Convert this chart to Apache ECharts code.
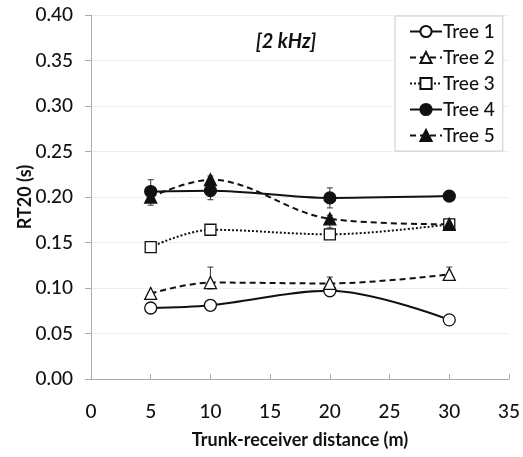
<!DOCTYPE html>
<html><head><meta charset="utf-8">
<script src="https://cdn.jsdelivr.net/npm/echarts@6/dist/echarts.min.js"></script>
<style>html,body{margin:0;padding:0;background:#fff}#c{width:523px;height:457px}</style>
</head><body><div id="c"></div>
<script>
const distances = [5, 10, 20, 30];
const tree1 = [0.078, 0.081, 0.097, 0.065];
const tree2 = [0.094, 0.106, 0.105, 0.115];
const tree3 = [0.145, 0.164, 0.159, 0.170];
const tree4 = [0.206, 0.207, 0.199, 0.201];
const tree5 = [0.200, 0.219, 0.176, 0.170];
// error bars: [x, low, high]
const errorBars = [
  [5, 0.194, 0.219], [10, 0.197, 0.223], [20, 0.188, 0.210],
  [5, 0.191, 0.206], [20, 0.166, 0.180],
  [10, 0.099, 0.123], [20, 0.100, 0.112], [30, 0.110, 0.123]
];
const yTicks = ['0.00','0.05','0.10','0.15','0.20','0.25','0.30','0.35','0.40'];

const FONT = 'Lato';
function pts(arr){ return distances.map((d,i)=>[d, arr[i]]); }
function lineSeries(name, arr, symbol, fill, dash){
  return {
    name, type:'line', data: pts(arr), smooth: 0.35,
    symbol, symbolSize: symbol==='triangle'?12:(symbol==='rect'?11:12),
    lineStyle:{color:'#111', width:2, type:dash},
    itemStyle:{color:fill, borderColor:'#111', borderWidth:1.3},
    z: 3
  };
}
const chart = echarts.init(document.getElementById('c'), null, {renderer:'canvas'});
chart.setOption({
  animation:false,
  textStyle:{fontFamily:FONT},
  title:{text:'[2 kHz]', left:281, top:27, textAlign:'center',
    textStyle:{fontFamily:FONT, fontSize:20, fontWeight:'bold', fontStyle:'italic', color:'#111'}},
  grid:{left:91, right:12, top:15, bottom:78, containLabel:false},
  legend:{
    orient:'vertical', left:395, top:16, width:117,
    backgroundColor:'#fff', borderColor:'#ccc', borderWidth:1,
    padding:[6,8,6,14], itemGap:7, itemWidth:32, itemHeight:14,
    textStyle:{fontFamily:FONT, fontSize:19, fontWeight:500, color:'#111', padding:[0,0,0,-4]},
    data:['Tree 1','Tree 2','Tree 3','Tree 4','Tree 5']
  },
  xAxis:{
    type:'value', min:0, max:35, interval:5,
    name:'Trunk-receiver distance (m)', nameLocation:'middle', nameGap:52,
    nameMoveOverlap:false,
    nameTextStyle:{fontFamily:FONT, fontSize:18, fontWeight:'bold', color:'#111'},
    axisLine:{onZero:false, lineStyle:{color:'#aaa', width:1}},
    axisTick:{show:true, inside:true, length:5, lineStyle:{color:'#aaa'}},
    axisLabel:{fontFamily:FONT, fontSize:19, fontWeight:500, color:'#111', margin:23},
    splitLine:{show:false}
  },
  yAxis:{
    type:'value', min:0, max:0.4, interval:0.05,
    name:'RT20 (s)', nameLocation:'middle', nameGap:57, nameRotate:90,
    nameMoveOverlap:false,
    nameTextStyle:{fontFamily:FONT, fontSize:18, fontWeight:'bold', color:'#111'},
    axisLine:{show:true, lineStyle:{color:'#aaa', width:1}},
    axisTick:{show:true, inside:false, length:6, lineStyle:{color:'#aaa'}},
    axisLabel:{fontFamily:FONT, fontSize:19, fontWeight:500, color:'#111', margin:18,
      formatter:(v,i)=>yTicks[i]},
    splitLine:{show:true, lineStyle:{color:'#ddd', type:'dotted', width:1}}
  },
  series:[
    {
      type:'custom', name:'err', data:errorBars, z:2, silent:true,
      renderItem:(params, api)=>{
        const x = api.value(0);
        const lo = api.coord([x, api.value(1)]);
        const hi = api.coord([x, api.value(2)]);
        const c = 3;
        return {type:'group', children:[
          {type:'line', shape:{x1:lo[0], y1:lo[1], x2:hi[0], y2:hi[1]}, style:{stroke:'#333', lineWidth:1}},
          {type:'line', shape:{x1:hi[0]-c, y1:hi[1], x2:hi[0]+c, y2:hi[1]}, style:{stroke:'#333', lineWidth:1}},
          {type:'line', shape:{x1:lo[0]-c, y1:lo[1], x2:lo[0]+c, y2:lo[1]}, style:{stroke:'#333', lineWidth:1}}
        ]};
      }
    },
    lineSeries('Tree 1', tree1, 'circle', '#fff', 'solid'),
    lineSeries('Tree 2', tree2, 'triangle', '#fff', [6,4]),
    lineSeries('Tree 3', tree3, 'rect', '#fff', [2,2]),
    lineSeries('Tree 4', tree4, 'circle', '#111', 'solid'),
    lineSeries('Tree 5', tree5, 'triangle', '#111', [6,4])
  ]
});
</script></body></html>
